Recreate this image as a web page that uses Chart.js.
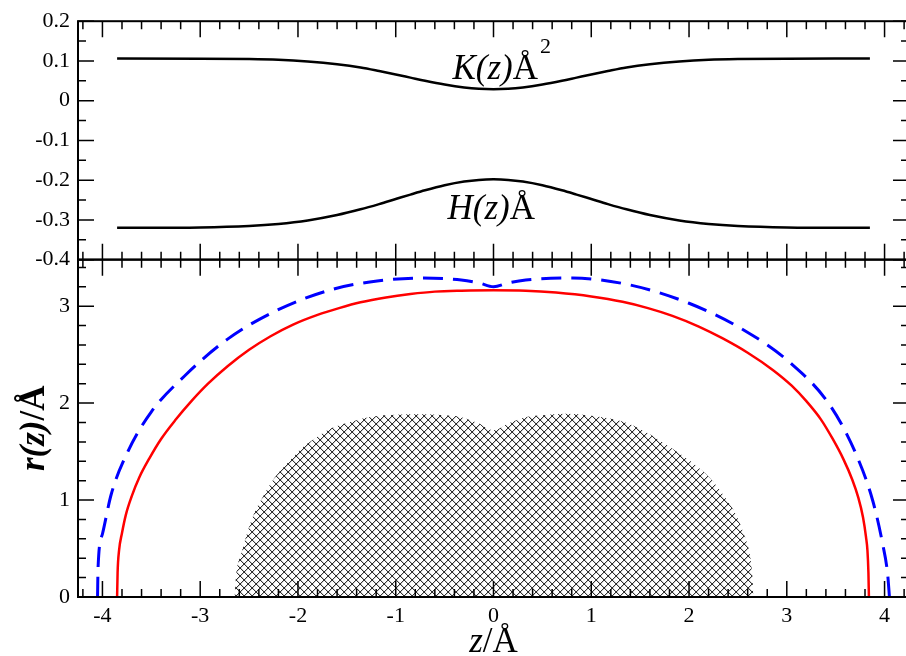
<!DOCTYPE html>
<html>
<head>
<meta charset="utf-8">
<script src="https://cdn.jsdelivr.net/npm/chart.js@4.4.1/dist/chart.umd.min.js"></script>
<style>
  html, body { margin: 0; padding: 0; background: #fff; overflow: hidden; }
  canvas { display: block; }
</style>
</head>
<body>
<canvas id="shapeChart" width="912" height="656"></canvas>
<script>
// top panel: curvatures along z
const kZ = [-3.85, -3.0, -2.5, -2.2, -1.9, -1.6, -1.36, -1.17, -1.0, -0.85, -0.7, -0.5, -0.3, -0.15, 0,
            0.15, 0.3, 0.5, 0.7, 0.85, 1.0, 1.17, 1.36, 1.6, 1.9, 2.2, 2.5, 3.0, 3.85];
const kVal = [0.106, 0.1058, 0.1047, 0.1028, 0.0985, 0.0916, 0.0835, 0.0746, 0.066, 0.058, 0.050, 0.0406, 0.0334, 0.0301, 0.029,
              0.0301, 0.0334, 0.0406, 0.050, 0.058, 0.066, 0.0746, 0.0835, 0.0916, 0.0985, 0.1028, 0.1047, 0.1058, 0.106];
const hZ = kZ;
const hVal = [-0.320, -0.3189, -0.3153, -0.3102, -0.3014, -0.2878, -0.2734, -0.2602, -0.2475, -0.2363, -0.2255, -0.2129, -0.2036, -0.1994, -0.198,
              -0.1994, -0.2036, -0.2129, -0.2255, -0.2363, -0.2475, -0.2602, -0.2734, -0.2878, -0.3014, -0.3102, -0.3153, -0.3189, -0.320];

// bottom panel: radius profiles
const redZ = [-3.85, -3.845, -3.83, -3.80, -3.76, -3.70, -3.62, -3.52, -3.40, -3.25, -3.09, -2.92, -2.72, -2.50, -2.28, -2.05,
              -1.80, -1.58, -1.36, -1.10, -0.85, -0.60, -0.33, 0, 0.33, 0.64, 1.00, 1.32, 1.58, 1.83, 2.10, 2.34, 2.60,
              2.86, 3.05, 3.20, 3.35, 3.47, 3.58, 3.67, 3.73, 3.78, 3.81, 3.825, 3.835, 3.84];
const redR = [0, 0.25, 0.48, 0.66, 0.85, 1.04, 1.24, 1.43, 1.63, 1.83, 2.02, 2.20, 2.38, 2.55, 2.69, 2.81,
              2.91, 2.98, 3.04, 3.09, 3.125, 3.15, 3.16, 3.165, 3.16, 3.14, 3.10, 3.045, 2.98, 2.90, 2.79, 2.67, 2.52,
              2.34, 2.18, 2.02, 1.83, 1.63, 1.42, 1.21, 1.03, 0.82, 0.62, 0.48, 0.25, 0];
const blueZ = [-4.05, -4.045, -4.00, -3.91, -3.74, -3.50, -3.16, -2.72, -2.21, -1.66, -1.19, -0.74, -0.33, -0.15, 0,
               0.15, 0.33, 0.81, 1.39, 2.00, 2.55, 3.03, 3.44, 3.71, 3.88, 3.98, 4.03, 4.05];
const blueR = [0, 0.3, 0.65, 1.06, 1.50, 1.91, 2.28, 2.66, 2.96, 3.17, 3.26, 3.29, 3.27, 3.24, 3.20,
               3.24, 3.27, 3.29, 3.22, 3.03, 2.76, 2.42, 1.98, 1.47, 0.99, 0.55, 0.25, 0];
const hatchZ = [-2.65, -2.63, -2.58, -2.52, -2.45, -2.35, -2.24, -2.10, -1.97, -1.82, -1.66, -1.45, -1.25, -1.0, -0.74, -0.5, -0.35, -0.15, 0,
                0.15, 0.35, 0.5, 0.74, 1.0, 1.32, 1.58, 1.83, 2.03, 2.21, 2.36, 2.48, 2.56, 2.62, 2.645, 2.66];
const hatchR = [0, 0.25, 0.45, 0.66, 0.86, 1.05, 1.23, 1.39, 1.53, 1.64, 1.74, 1.81, 1.86, 1.88, 1.885, 1.875, 1.86, 1.79, 1.72,
                1.79, 1.86, 1.875, 1.89, 1.87, 1.81, 1.69, 1.53, 1.39, 1.23, 1.04, 0.85, 0.65, 0.45, 0.25, 0];

// axis ticks
const xTickValues = [-4, -3, -2, -1, 0, 1, 2, 3, 4];
const xTickLabels = ['-4', '-3', '-2', '-1', '0', '1', '2', '3', '4'];
const topTickValues = [-0.4, -0.3, -0.2, -0.1, 0, 0.1, 0.2];
const topTickLabels = ['-0.4', '-0.3', '-0.2', '-0.1', '0', '0.1', '0.2'];
const bottomTickValues = [0, 1, 2, 3];
const bottomTickLabels = ['0', '1', '2', '3'];

const serif = 'Liberation Serif';
const tickFont = { family: '"Liberation Serif", serif', size: 22 };

function pairs(xs, ys) {
  return xs.map((x, i) => ({ x: x, y: ys[i] }));
}

// cross hatch used for the shaded region: one-pixel diagonals, darker where they cross
function makeHatch(step) {
  const c = document.createElement('canvas');
  c.width = step;
  c.height = step;
  const g = c.getContext('2d');
  g.fillStyle = 'rgba(0,0,0,0.8)';
  for (let i = 0; i < step; i++) {
    g.fillRect(i, i, 1, 1);
    g.fillRect(i, step - 1 - i, 1, 1);
  }
  g.fillStyle = 'rgba(0,0,0,0.18)';
  for (let i = 0; i < step; i++) {
    g.fillRect((i + 1) % step, i, 1, 1);
    g.fillRect((i + 1) % step, step - 1 - i, 1, 1);
  }
  return g.createPattern(c, 'repeat');
}

// frames and inward ticks on every side of both panels
const frameTicks = {
  id: 'frameTicks',
  afterDatasetsDraw(chart) {
    const ctx = chart.ctx;
    const xs = chart.scales.x;
    const yT = chart.scales.yTop;
    const yB = chart.scales.yBottom;
    const L = chart.chartArea.left;
    const R = chart.chartArea.right;
    const major = 16, minor = 8;
    ctx.save();
    ctx.strokeStyle = '#000';
    ctx.lineWidth = 2;
    [yT, yB].forEach(s => ctx.strokeRect(L, s.top, R - L, s.bottom - s.top));

    ctx.lineWidth = 1.5;
    ctx.beginPath();
    [yT, yB].forEach(s => {
      for (let i = -21; i <= 21; i++) {
        const px = xs.getPixelForValue(i * 0.2);
        if (px < L + 1 || px > R - 1) continue;
        const len = i % 5 === 0 ? major : minor;
        ctx.moveTo(px, s.top); ctx.lineTo(px, s.top + len);
        ctx.moveTo(px, s.bottom); ctx.lineTo(px, s.bottom - len);
      }
    });
    for (let i = -8; i <= 4; i++) {
      const py = yT.getPixelForValue(i * 0.05);
      const len = i % 2 === 0 ? major : minor;
      ctx.moveTo(L, py); ctx.lineTo(L + len, py);
      ctx.moveTo(R, py); ctx.lineTo(R - len, py);
    }
    for (let i = 0; i <= 17; i++) {
      const py = yB.getPixelForValue(i * 0.2);
      const len = i % 5 === 0 ? major : minor;
      ctx.moveTo(L, py); ctx.lineTo(L + len, py);
      ctx.moveTo(R, py); ctx.lineTo(R - len, py);
    }
    ctx.stroke();
    ctx.restore();
  }
};

function drawParts(ctx, parts, x, y) {
  parts.forEach(p => {
    ctx.font = p.font;
    ctx.fillText(p.text, x, y);
    x += ctx.measureText(p.text).width;
  });
  return x;
}

function partsWidth(ctx, parts) {
  let w = 0;
  parts.forEach(p => { ctx.font = p.font; w += ctx.measureText(p.text).width; });
  return w;
}

// curve labels and axis titles (mixed italic / upright)
const textLabels = {
  id: 'textLabels',
  afterDraw(chart) {
    const ctx = chart.ctx;
    const xs = chart.scales.x;
    const yT = chart.scales.yTop;
    const yB = chart.scales.yBottom;
    const it = 'italic 35px "' + serif + '"';
    const up = '35px "' + serif + '"';
    ctx.save();
    ctx.fillStyle = '#000';
    ctx.textBaseline = 'alphabetic';
    ctx.textAlign = 'left';

    let x = drawParts(ctx, [{ text: 'K(z)', font: it }, { text: 'Å', font: up }],
      xs.getPixelForValue(-0.42), yT.getPixelForValue(0.055));
    ctx.font = '22px "' + serif + '"';
    ctx.fillText('2', x + 2, yT.getPixelForValue(0.055) - 26);

    drawParts(ctx, [{ text: 'H(z)', font: it }, { text: 'Å', font: up }],
      xs.getPixelForValue(-0.47), yT.getPixelForValue(-0.298));

    // x title
    const xt = [{ text: 'z', font: it }, { text: '/Å', font: up }];
    drawParts(ctx, xt, xs.getPixelForValue(0) - partsWidth(ctx, xt) / 2, 652);

    // y title, rotated
    const yt = [{ text: 'r(z)', font: 'italic bold 35px "' + serif + '"' }, { text: '/Å', font: 'bold 35px "' + serif + '"' }];
    const cy = (yB.top + yB.bottom) / 2;
    ctx.translate(44, cy);
    ctx.rotate(-Math.PI / 2);
    drawParts(ctx, yt, -partsWidth(ctx, yt) / 2, 0);
    ctx.restore();
  }
};

const ctx = document.getElementById('shapeChart').getContext('2d');
const hatch = makeHatch(8);

const lineBase = { showLine: true, pointRadius: 0, pointHoverRadius: 0, fill: false, cubicInterpolationMode: 'monotone' };

new Chart(ctx, {
  type: 'scatter',
  data: {
    datasets: [
      Object.assign({}, lineBase, { label: 'K', data: pairs(kZ, kVal), yAxisID: 'yTop', borderColor: '#000', borderWidth: 2.5 }),
      Object.assign({}, lineBase, { label: 'H', data: pairs(hZ, hVal), yAxisID: 'yTop', borderColor: '#000', borderWidth: 2.5 }),
      Object.assign({}, lineBase, { label: 'r', data: pairs(redZ, redR), yAxisID: 'yBottom', borderColor: '#ff0000', borderWidth: 2.5 }),
      Object.assign({}, lineBase, { label: 'r2', data: pairs(blueZ, blueR), yAxisID: 'yBottom', borderColor: '#0000ff', borderWidth: 3, borderDash: [20, 10] }),
      Object.assign({}, lineBase, { label: 'core', data: pairs(hatchZ, hatchR), yAxisID: 'yBottom', borderWidth: 0, borderColor: 'rgba(0,0,0,0)', backgroundColor: hatch, fill: 'origin' })
    ]
  },
  options: {
    responsive: false,
    animation: false,
    devicePixelRatio: 1,
    layout: { padding: { top: 15, right: 3, bottom: 0, left: 0 } },
    plugins: { legend: { display: false }, tooltip: { enabled: false }, title: { display: false } },
    events: [],
    scales: {
      x: {
        type: 'linear', position: 'bottom', min: -4.25, max: 4.25,
        afterBuildTicks: s => { s.ticks = xTickValues.map(v => ({ value: v })); },
        afterFit: s => { s.height = 59; },
        grid: { display: false, drawTicks: false },
        border: { display: false },
        ticks: { font: tickFont, color: '#000', padding: 6, autoSkip: false, maxRotation: 0,
                 callback: v => xTickLabels[xTickValues.indexOf(v)] }
      },
      // stacked left axes: the later one is placed on top
      yBottom: {
        type: 'linear', position: 'left', stack: 'panels', stackWeight: 341, min: 0, max: 3.48,
        afterBuildTicks: s => { s.ticks = bottomTickValues.map(v => ({ value: v })); },
        afterFit: s => { s.width = 78; },
        grid: { display: false, drawTicks: false },
        border: { display: false },
        ticks: { font: tickFont, color: '#000', padding: 8, autoSkip: false,
                 callback: v => bottomTickLabels[bottomTickValues.indexOf(v)] }
      },
      yTop: {
        type: 'linear', position: 'left', stack: 'panels', stackWeight: 241, min: -0.4, max: 0.2,
        afterBuildTicks: s => { s.ticks = topTickValues.map(v => ({ value: v })); },
        afterFit: s => { s.width = 78; },
        grid: { display: false, drawTicks: false },
        border: { display: false },
        ticks: { font: tickFont, color: '#000', padding: 8, autoSkip: false,
                 callback: v => topTickLabels[topTickValues.indexOf(v)] }
      }
    }
  },
  plugins: [frameTicks, textLabels]
});
</script>
</body>
</html>
